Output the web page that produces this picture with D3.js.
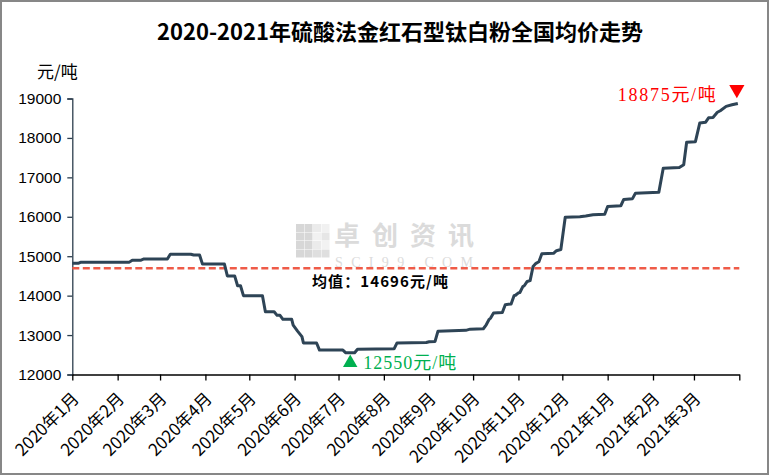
<!DOCTYPE html>
<html><head><meta charset="utf-8">
<script src="https://cdn.jsdelivr.net/npm/d3@7"></script>
<style>
html,body{margin:0;padding:0;background:#fff;}
svg{display:block;}
</style></head>
<body>
<svg id="chart" width="769" height="475"></svg>
<script>
const title = "2020-2021年硫酸法金红石型钛白粉全国均价走势";
const unitLabel = "元/吨";
const yTicks = [12000, 13000, 14000, 15000, 16000, 17000, 18000, 19000];
const monthTicks = ["2020-01-01","2020-02-01","2020-03-01","2020-04-01","2020-05-01","2020-06-01","2020-07-01","2020-08-01","2020-09-01","2020-10-01","2020-11-01","2020-12-01","2021-01-01","2021-02-01","2021-03-01","2021-04-01"];
const monthLabels = ["2020年1月","2020年2月","2020年3月","2020年4月","2020年5月","2020年6月","2020年7月","2020年8月","2020年9月","2020年10月","2020年11月","2020年12月","2021年1月","2021年2月","2021年3月",""];
const priceDates = ["2020-01-01","2020-01-05","2020-01-07","2020-02-09","2020-02-11","2020-02-17","2020-02-19","2020-03-06","2020-03-08","2020-03-22","2020-03-24","2020-03-28","2020-03-30","2020-04-14","2020-04-16","2020-04-21","2020-04-23","2020-04-25","2020-04-27","2020-05-10","2020-05-12","2020-05-18","2020-05-20","2020-05-22","2020-05-24","2020-05-30","2020-05-31","2020-06-03","2020-06-06","2020-06-07","2020-06-16","2020-06-18","2020-07-04","2020-07-06","2020-07-12","2020-07-14","2020-08-08","2020-08-10","2020-08-30","2020-09-01","2020-09-05","2020-09-07","2020-09-26","2020-09-29","2020-10-08","2020-10-10","2020-10-12","2020-10-13","2020-10-15","2020-10-21","2020-10-23","2020-10-27","2020-10-29","2020-10-30","2020-11-01","2020-11-02","2020-11-04","2020-11-05","2020-11-07","2020-11-09","2020-11-11","2020-11-13","2020-11-15","2020-11-17","2020-11-25","2020-11-27","2020-11-30","2020-12-03","2020-12-13","2020-12-17","2020-12-22","2020-12-30","2021-01-01","2021-01-10","2021-01-12","2021-01-18","2021-01-20","2021-02-05","2021-02-08","2021-02-19","2021-02-22","2021-02-24","2021-03-02","2021-03-05","2021-03-09","2021-03-11","2021-03-14","2021-03-17","2021-03-19","2021-03-23","2021-03-27","2021-03-31"];
const priceValues = [14820,14820,14850,14850,14900,14900,14930,14930,15050,15050,15030,15030,14800,14800,14500,14500,14250,14250,14000,14000,13590,13590,13500,13500,13400,13400,13250,13100,12960,12800,12800,12620,12620,12550,12550,12640,12650,12800,12810,12830,12840,13100,13120,13150,13160,13260,13400,13430,13560,13570,13770,13790,14000,14010,14070,14080,14230,14250,14360,14380,14740,14820,14860,15060,15075,15140,15170,15990,16000,16020,16050,16065,16260,16280,16440,16460,16600,16625,17230,17250,17320,17890,17905,18380,18400,18510,18520,18650,18690,18800,18840,18875];
const meanValue = 14696;
const meanLabel = "均值：14696元/吨";
const minValue = 12550, minDate = "2020-07-09", minLabel = "12550元/吨";
const maxValue = 18875, maxDate = "2021-03-31", maxLabel = "18875元/吨";

const parse = d3.utcParse("%Y-%m-%d");
const svg = d3.select("#chart");
const W = 769, H = 475;

svg.append("rect").attr("x",1).attr("y",1).attr("width",W-2).attr("height",H-2)
  .attr("fill","#fff").attr("stroke","#878787").attr("stroke-width",2);

const x = d3.scaleUtc().domain([parse(monthTicks[0]), parse(monthTicks[monthTicks.length-1])]).range([72.3, 739.3]);
const y = d3.scaleLinear().domain([12000, 19000]).range([374.5, 98.5]);

// watermark
const wm = svg.append("g").attr("opacity",0.6);
const logo = [[0,0,1],[1,0,1],[0,1,1],[1,1,1],[2,0,0.5],[3,0,0.35],[2,1,0.35],[3,1,0.6],[0,2,1],[1,2,1],[2,2,0.5],[3,2,0.3],[0,3,1],[1,3,1],[2,3,0.8],[3,3,0.8]];
logo.forEach(([i,j,o]) => wm.append("rect").attr("x",296+i*8.5).attr("y",224+j*8.5).attr("width",8).attr("height",8).attr("fill","#bdbdbd").attr("opacity",o));
wm.append("text").attr("x",334).attr("y",245).attr("font-family","Noto Sans CJK SC").attr("font-weight","bold")
  .attr("font-size",26).attr("fill","#c4c4c4").attr("textLength",140).text("卓创资讯");
wm.append("text").attr("x",335).attr("y",267).attr("font-family","Liberation Serif")
  .attr("font-size",14).attr("fill","#c4c4c4").attr("textLength",138).text("SCI99.COM");

// title
svg.append("text").attr("x",400).attr("y",40).attr("text-anchor","middle")
  .attr("font-family","Noto Sans CJK SC").attr("font-weight","bold").attr("font-size",22).attr("fill","#000").text(title);

// unit label
svg.append("text").attr("x",37).attr("y",78).attr("font-family","Noto Sans CJK SC").attr("font-size",17).attr("fill","#000").text(unitLabel);

// y axis
const yAxis = svg.append("g").attr("transform","translate(72.3,0)")
  .call(d3.axisLeft(y).tickValues(yTicks).tickSize(5).tickPadding(6).tickFormat(d3.format("d")));
yAxis.select(".domain").attr("stroke","#2d3e4e").attr("stroke-width",1.3);
yAxis.selectAll(".tick line").attr("stroke","#2d3e4e").attr("stroke-width",1.3);
yAxis.selectAll("text").attr("font-family","Liberation Sans").attr("font-size",15.5).attr("fill","#000");

// x axis
const xAxis = svg.append("g").attr("transform","translate(0,374.5)")
  .call(d3.axisBottom(x).tickValues(monthTicks.map(parse)).tickSize(6).tickSizeOuter(0)
    .tickFormat((d,i) => monthLabels[i]));
xAxis.select(".domain").attr("stroke","#000").attr("stroke-width",1.3);
xAxis.selectAll(".tick line").attr("stroke","#000").attr("stroke-width",1.3);
xAxis.selectAll("text").attr("font-family","Noto Sans CJK SC").attr("font-size",17).attr("fill","#000")
  .attr("text-anchor","end").attr("transform","translate(3,21) rotate(-45)").attr("dy","0.35em").attr("y",0).attr("x",0);

// mean line
svg.append("line").attr("x1",x.range()[0]).attr("x2",x.range()[1]).attr("y1",y(meanValue)).attr("y2",y(meanValue))
  .attr("stroke","#ef5b48").attr("stroke-width",2.6).attr("stroke-dasharray","7,3.5");
svg.append("text").attr("x",312).attr("y",y(meanValue)+19).attr("font-family","Noto Sans CJK SC").attr("font-weight","bold")
  .attr("font-size",15).attr("fill","#000").attr("textLength",136).text(meanLabel);

// price line
const data = priceDates.map((d,i) => ({date: parse(d), value: priceValues[i]}));
svg.append("path").datum(data).attr("fill","none").attr("stroke","#2e4456").attr("stroke-width",3)
  .attr("stroke-linejoin","round")
  .attr("d", d3.line().x(d => x(d.date)).y(d => y(d.value)));

// min annotation
const mx = x(parse(minDate)), my = y(minValue);
svg.append("path").attr("d", d3.symbol().type(d3.symbolTriangle).size(90)())
  .attr("transform",`translate(${mx},${my+10})`).attr("fill","#00b050");
svg.append("text").attr("x",mx+13).attr("y",my+16).attr("font-family","Liberation Serif, Noto Sans CJK SC")
  .attr("font-size",18).attr("fill","#00b050").attr("textLength",93).text(minLabel);

// max annotation
const Mx = x(parse(maxDate)), My = y(maxValue);
svg.append("path").attr("d", d3.symbol().type(d3.symbolTriangle).size(100)())
  .attr("transform",`translate(${Mx-1},${My-14}) rotate(180)`).attr("fill","#ff0000");
svg.append("text").attr("x",Mx-22).attr("y",My-2).attr("text-anchor","end").attr("font-family","Liberation Serif, Noto Sans CJK SC")
  .attr("font-size",18).attr("fill","#ff0000").attr("textLength",98).text(maxLabel);
</script>
</body></html>
